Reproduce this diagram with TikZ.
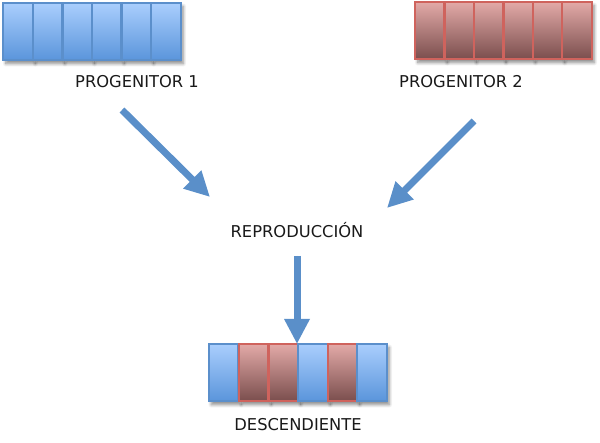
\documentclass[tikz,border=0pt]{standalone}
\usepackage{fontspec}
\setmainfont{DejaVu Sans}
\usetikzlibrary{arrows.meta,shadows.blur}
\definecolor{bluetop}{HTML}{AACEFD}
\definecolor{bluebot}{HTML}{5A95DB}
\definecolor{blueborder}{HTML}{5B8FCB}
\definecolor{redtop}{HTML}{E3AAA8}
\definecolor{redbot}{HTML}{7A4E4D}
\definecolor{redborder}{HTML}{CF635D}
\definecolor{arrowblue}{HTML}{5A8FC9}
\tikzset{
  cell/.style={minimum width=29.6pt, minimum height=57.5pt, inner sep=0pt, line width=2.3pt,
    blur shadow={shadow xshift=2.5pt, shadow yshift=-3.5pt, shadow blur steps=8, shadow blur radius=3pt, shadow opacity=45}},
  bluecell/.style={cell, draw=blueborder, top color=bluetop, bottom color=bluebot},
  redcell/.style={cell, draw=redborder, top color=redtop, bottom color=redbot},
  lab/.style={font=\fontsize{16.3}{18}\selectfont, text=black!90, inner sep=0pt},
  bigarrow/.style={draw=arrowblue, line width=7pt, -{Triangle[width=24pt,length=25pt]}, fill=arrowblue}
}
\begin{document}
\begin{tikzpicture}[x=1pt,y=-1pt]
\useasboundingbox (0,0) rectangle (600,443);
% Progenitor 1
\foreach \i in {0,...,5}{
  \node[bluecell] (pa\i) at ({18+29.6*\i},31.5) {};
}
% Progenitor 2
\foreach \i in {0,...,5}{
  \node[redcell] (pb\i) at ({430+29.4*\i},30.5) {};
}
% Descendiente
\node[bluecell] (d0) at (223.5,372.5) {};
\node[redcell]  (d1) at (253.8,372.5) {};
\node[redcell]  (d2) at (283.5,372.5) {};
\node[bluecell] (d3) at (313,372.5) {};
\node[redcell]  (d4) at (342.5,372.5) {};
\node[bluecell] (d5) at (372,372.5) {};

\node[lab] (l1) at (137,82) {PROGENITOR 1};
\node[lab] (l2) at (461,82) {PROGENITOR 2};
\node[lab] (rep) at (297,230) {REPRODUCCIÓN};
\node[lab] (desc) at (298,425) {DESCENDIENTE};

\coordinate (a1s) at (122,110);
\coordinate (a1e) at (210,197);
\coordinate (a2s) at (474,121);
\coordinate (a2e) at (387,208);
\coordinate (a3s) at (297,256);
\coordinate (a3e) at (297,344);
\draw[bigarrow] (a1s) -- (a1e);
\draw[bigarrow] (a2s) -- (a2e);
\draw[bigarrow] (a3s) -- (a3e);
\end{tikzpicture}
\end{document}
